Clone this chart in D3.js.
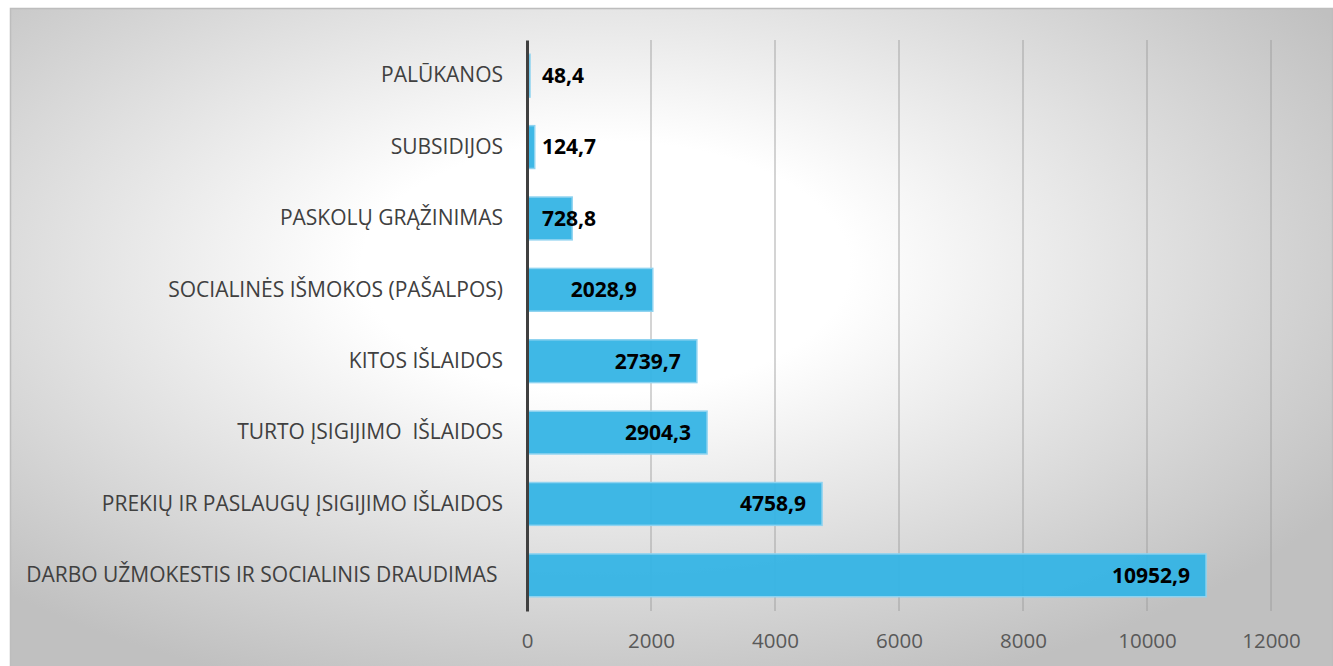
<!DOCTYPE html>
<html>
<head>
<meta charset="utf-8">
<script src="https://cdn.jsdelivr.net/npm/d3@7"></script>
<style>
  body { margin: 0; background: #ffffff; }
  svg { display: block; }
</style>
</head>
<body>
<div id="chart"></div>
<script>
// categories, top to bottom
var categories = [
    'PALŪKANOS',
    'SUBSIDIJOS',
    'PASKOLŲ GRĄŽINIMAS',
    'SOCIALINĖS IŠMOKOS (PAŠALPOS)',
    'KITOS IŠLAIDOS',
    'TURTO ĮSIGIJIMO  IŠLAIDOS',
    'PREKIŲ IR PASLAUGŲ ĮSIGIJIMO IŠLAIDOS',
    'DARBO UŽMOKESTIS IR SOCIALINIS DRAUDIMAS '
];
var values = [48.4, 124.7, 728.8, 2028.9, 2739.7, 2904.3, 4758.9, 10952.9];
var tickValues = [0, 2000, 4000, 6000, 8000, 10000, 12000];

var width = 1333,
    height = 666;

var svg = d3.select('#chart').append('svg')
    .attr('width', width)
    .attr('height', height);

// background gradient
var defs = svg.append('defs');
var grad = defs.append('radialGradient')
    .attr('id', 'bg')
    .attr('cx', '0.45').attr('cy', '0.38')
    .attr('r', '0.66');
grad.append('stop').attr('offset', '0').attr('stop-color', '#ffffff');
grad.append('stop').attr('offset', '0.28').attr('stop-color', '#ffffff');
grad.append('stop').attr('offset', '1').attr('stop-color', '#c0c0c0');

svg.append('rect')
    .attr('x', 10.5).attr('y', 8.5)
    .attr('width', 1322).attr('height', 680)
    .attr('fill', 'url(#bg)')
    .attr('stroke', '#bdbdbd')
    .attr('stroke-width', 1.5);

var x = d3.scaleLinear()
    .domain([0, 12000])
    .range([527, 1271]);

var y = d3.scaleBand()
    .domain(categories)
    .range([40, 611])
    .paddingInner(0.4)
    .paddingOuter(0.2);

// gridlines
svg.append('g')
    .selectAll('line')
    .data(tickValues.slice(1))
    .enter().append('line')
    .attr('x1', function(d) { return x(d); })
    .attr('x2', function(d) { return x(d); })
    .attr('y1', 40)
    .attr('y2', 611)
    .attr('stroke', '#9a9a9a')
    .attr('stroke-opacity', 0.65)
    .attr('stroke-width', 1.3);

// bars
svg.append('g')
    .selectAll('rect')
    .data(values)
    .enter().append('rect')
    .attr('x', x(0))
    .attr('y', function(d, i) { return y(categories[i]); })
    .attr('width', function(d) { return x(d) - x(0); })
    .attr('height', y.bandwidth())
    .attr('fill', '#35b4e5')
    .attr('fill-opacity', 0.95)
    .attr('stroke', '#8fd3f0')
    .attr('stroke-width', 1.5);

// x axis tick labels
var xAxis = svg.append('g')
    .attr('transform', 'translate(0,' + 622 + ')')
    .call(d3.axisBottom(x).tickValues(tickValues).tickSize(0).tickPadding(11).tickFormat(d3.format('d')));
xAxis.select('.domain').remove();
xAxis.selectAll('text')
    .attr('font-family', '"Open Sans", sans-serif')
    .attr('font-size', 20.5)
    .attr('fill', '#595959');

// y axis
var yAxis = svg.append('g')
    .attr('transform', 'translate(' + x(0) + ',0)')
    .call(d3.axisLeft(y).tickSize(0).tickPadding(24));
yAxis.select('.domain')
    .attr('stroke', '#404040')
    .attr('stroke-width', 3);
yAxis.selectAll('text')
    .attr('font-family', '"Open Sans", sans-serif')
    .attr('font-size', 21)
    .attr('fill', '#404040')
    .style('white-space', 'pre');

// data labels
var labels = svg.append('g')
    .selectAll('text')
    .data(values)
    .enter().append('text')
    .attr('y', function(d, i) { return y(categories[i]) + y.bandwidth() / 2; })
    .attr('dy', '0.35em')
    .attr('font-family', '"Open Sans", sans-serif')
    .attr('font-weight', 'bold')
    .attr('font-size', 21)
    .attr('fill', '#000000')
    .text(function(d) { return String(d).replace('.', ','); });

labels.each(function(d) {
    var t = d3.select(this);
    var w = this.getComputedTextLength();
    var right = x(d) - 16;
    if (right - w < x(0) + 15) {
        t.attr('x', x(0) + 15).attr('text-anchor', 'start');
    } else {
        t.attr('x', right).attr('text-anchor', 'end');
    }
});
</script>
</body>
</html>
